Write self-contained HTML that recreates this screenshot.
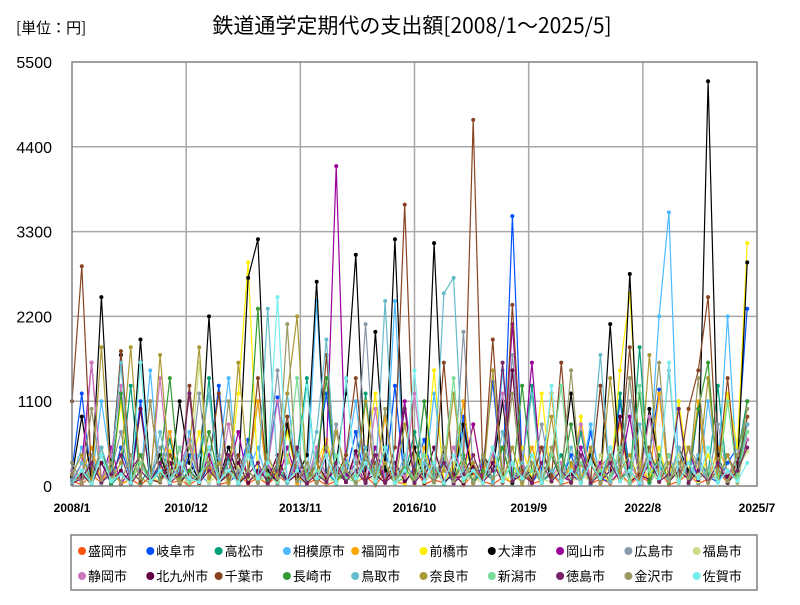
<!DOCTYPE html>
<html><head><meta charset="utf-8"><style>
body{margin:0;background:#fff;font-family:"Liberation Sans","Noto Sans CJK JP",sans-serif}
</style></head><body>
<svg id="chart" width="800" height="600" xmlns="http://www.w3.org/2000/svg">
<text x="16" y="33" font-size="15" font-family="Noto Sans CJK JP, sans-serif">[単位：円]</text>
<text x="412" y="33" font-size="21" text-anchor="middle" font-family="Noto Sans CJK JP, sans-serif">鉄道通学定期代の支出額[2008/1～2025/5]</text>
<g id="grid"></g><g id="series"></g><g id="axes"></g><g id="legend"></g>
</svg>
<script>
const names=["盛岡市","岐阜市","高松市","相模原市","福岡市","前橋市","大津市","岡山市","広島市","福島市","静岡市","北九州市","千葉市","長崎市","鳥取市","奈良市","新潟市","徳島市","金沢市","佐賀市"];
const colors=["#ff5511","#0050ff","#00a078","#4cbaff","#ffa500","#ffee00","#000000","#990099","#8899aa","#ccdd88","#cc77bb","#660044","#884422","#339933","#66bbcc","#aa9933","#77dd99","#772266","#999966","#77eeee"];
const yTicks=[0,1100,2200,3300,4400,5500];
const xTickLabels=["2008/1","2010/12","2013/11","2016/10","2019/9","2022/8","2025/7"];
const s0=[60,20,150,40,220,30,90,10,120,180,40,70,15,100,260,20,50,160,30,110,20,140,40,300,30,90,15,60,200,40,130,10,170,50,30,240,20,80,40,190,10,150,60,20,110,40,220,30,70,160,20,60,280,30,90,40,180,20,130,50,210,15,60,160,30,90,200,40,300,800];
const s1=[200,1200,60,300,30,500,90,1100,40,250,700,60,400,30,280,1300,50,150,600,40,300,1150,70,250,50,400,1200,60,150,700,40,300,80,1300,30,250,600,50,350,120,900,40,280,1350,60,3500,300,40,220,1200,60,400,40,700,100,50,1100,200,30,400,1250,60,500,40,1000,120,50,300,500,2300];
const s2=[30,200,60,400,20,150,1300,40,250,80,600,30,200,60,1400,40,350,20,150,1100,30,250,70,400,1400,40,200,20,350,90,1200,40,250,30,120,700,50,300,20,200,1100,40,180,80,500,30,250,1300,60,150,400,40,700,20,200,80,1200,50,1800,40,250,100,1100,30,350,150,1300,60,400,1100];
const s3=[100,500,40,1100,250,50,400,90,1500,60,300,20,700,150,40,350,1400,50,200,500,30,300,1200,80,40,2400,200,50,350,1100,40,300,120,2400,60,500,50,1200,200,40,700,80,350,50,1500,200,40,500,120,1200,50,300,90,800,40,350,200,1400,50,300,2200,3550,100,500,40,1100,200,2200,80,800];
const s4=[30,150,500,60,300,20,90,400,40,200,700,50,150,30,500,80,300,40,200,1100,50,150,400,30,300,80,600,40,200,30,400,120,900,50,250,20,500,90,300,40,1100,30,200,400,60,300,20,500,120,1200,40,250,80,450,30,300,800,40,200,90,1200,60,400,120,1100,40,500,200,60,900];
const s5=[50,200,30,500,80,1100,40,300,120,50,450,20,200,700,60,300,90,1200,2900,60,400,50,700,120,30,300,600,40,200,80,400,1200,50,300,30,500,120,1500,40,250,80,800,60,400,150,40,500,90,1200,50,300,80,900,60,200,30,1500,2500,300,80,500,40,1100,200,60,400,120,1200,500,3150];
const s6=[120,900,60,2450,200,1700,60,1900,150,400,50,1100,300,80,2200,60,500,120,2700,3200,200,50,800,120,400,2650,80,300,1200,3000,60,2000,200,3200,80,500,40,3150,300,100,800,60,400,200,1100,40,300,90,500,60,200,1200,80,400,100,2100,200,2750,80,1000,300,60,500,200,80,5250,400,40,200,2900];
const s7=[50,300,1600,80,500,30,200,400,60,300,20,500,120,60,400,30,200,700,60,150,300,30,500,80,200,50,400,4150,120,300,40,500,80,200,1100,50,300,120,400,30,200,800,60,300,90,2100,200,1600,50,400,120,60,500,80,300,40,200,900,60,300,100,400,50,500,90,200,60,400,120,600];
const s8=[150,40,400,30,200,700,60,300,40,500,80,200,50,1200,120,400,60,200,500,40,300,1500,80,200,50,400,120,800,60,300,2100,80,500,40,200,120,1100,60,400,40,2000,200,80,500,120,1700,300,60,800,80,200,40,400,120,1300,80,300,1100,60,400,200,1500,80,500,300,40,800,120,400,700];
const s9=[40,120,20,300,60,150,30,400,80,40,300,20,100,1600,50,150,30,250,70,120,40,400,60,150,30,300,90,60,400,40,150,60,300,30,100,400,50,200,40,300,60,120,30,350,50,150,40,400,90,50,300,40,150,60,400,50,120,30,350,80,200,50,400,40,150,90,350,60,200,450];
const s10=[200,50,1600,80,400,1300,60,300,120,1400,50,250,600,80,300,50,800,120,400,60,250,1100,80,300,50,500,120,250,50,400,90,1000,60,300,120,1200,80,250,50,500,120,300,60,400,1200,80,250,50,500,120,300,80,800,60,250,400,80,300,50,900,120,400,80,500,200,60,300,120,400,600];
const s11=[50,150,30,300,60,200,40,1000,80,50,300,30,200,60,500,40,150,300,40,200,80,400,50,150,30,300,90,200,50,450,80,150,40,300,60,200,80,500,50,150,30,250,80,300,50,1500,90,200,50,400,80,150,50,300,60,200,900,50,150,80,300,50,200,90,400,60,200,120,300,800];
const s12=[1100,2850,100,500,40,1750,200,60,1100,50,400,120,1300,60,300,1200,40,400,120,1400,50,300,900,80,200,40,1700,120,400,1400,60,300,50,500,3650,100,400,50,1600,60,300,4750,100,1900,40,2350,200,60,500,120,1600,40,300,80,1300,100,400,1800,60,500,50,300,120,1000,1500,2450,200,1400,100,900];
const s13=[30,200,80,500,40,1200,100,400,40,300,1400,60,200,40,700,100,300,50,400,2300,60,200,40,500,100,300,1400,60,200,40,400,100,500,60,250,40,1100,100,300,60,400,40,200,100,500,60,1300,200,40,400,100,800,60,300,40,500,100,200,1200,60,400,40,300,100,1000,1600,60,400,100,1100];
const s14=[80,300,40,500,120,1600,60,300,40,700,100,200,60,400,1200,40,300,100,500,60,2300,200,40,400,100,700,1900,60,300,40,500,100,2400,60,400,40,300,100,2500,2700,200,60,400,40,700,100,300,1200,60,200,40,500,100,300,1700,60,400,40,800,200,300,60,500,100,400,60,300,200,100,800];
const s15=[150,400,50,1800,80,300,1800,100,40,1700,200,60,500,1800,100,300,40,1600,200,60,400,100,1200,2200,60,300,40,700,200,60,1100,100,300,40,800,100,400,60,200,1200,100,300,40,1500,60,500,40,200,100,900,60,300,40,500,100,1400,200,400,40,1700,100,300,60,500,200,1400,100,400,40,700];
const s16=[40,200,30,400,80,150,40,300,30,200,60,500,40,150,300,50,200,30,400,60,150,40,300,1400,60,200,40,400,100,50,300,60,500,40,200,100,400,40,300,1400,60,200,40,500,100,300,60,200,40,400,1300,60,300,40,200,100,500,60,1300,200,60,400,40,300,100,200,60,1100,100,700];
const s17=[30,100,300,50,150,400,30,200,60,300,40,150,1200,40,200,60,400,40,150,300,30,200,60,500,40,150,50,300,60,200,40,400,50,150,1000,40,200,60,300,40,150,400,50,200,1600,60,150,40,300,60,200,50,400,40,150,300,60,200,40,400,60,150,1000,40,200,60,300,50,200,500];
const s18=[300,40,1000,80,300,40,400,100,1100,60,200,40,500,100,300,50,1100,60,200,40,400,100,2100,60,300,40,500,100,200,50,400,60,1000,40,300,100,200,50,500,60,300,40,400,100,200,1200,60,300,50,500,100,1500,60,300,40,400,100,1400,200,400,1600,60,300,100,1400,40,200,60,400,1000];
const s19=[40,200,30,400,60,150,40,1600,60,200,40,300,100,50,500,60,200,40,400,100,300,2450,60,200,1300,100,400,40,1400,100,300,60,500,40,200,1500,60,300,40,400,100,200,40,500,60,300,100,400,50,1300,60,200,40,300,100,500,60,200,40,400,100,1600,60,300,100,500,40,200,60,300];
const seriesData=[s0,s1,s2,s3,s4,s5,s6,s7,s8,s9,s10,s11,s12,s13,s14,s15,s16,s17,s18,s19];
const monthStep=3, totalMonths=210;
const NS="http://www.w3.org/2000/svg";
const L=72,R=757,T=62,B=486,yMax=5500;
const xs=m=>L+(R-L)*m/totalMonths;
const ys=v=>B-(B-T)*v/yMax;
function mk(tag,attrs,parent){const e=document.createElementNS(NS,tag);for(const k in attrs)e.setAttribute(k,attrs[k]);parent.appendChild(e);return e;}
const grid=document.getElementById('grid'),axes=document.getElementById('axes'),ser=document.getElementById('series'),leg=document.getElementById('legend');
yTicks.forEach((t,i)=>{
  if(i>0&&i<yTicks.length-1){const g=mk('line',{x1:L,x2:R,y1:ys(t),y2:ys(t),stroke:'#a8a8a8','stroke-width':1.5},grid);
  
  }
  const tx=mk('text',{x:52,y:ys(t)+6,'font-size':16,'text-anchor':'end'},axes);tx.textContent=t;
  
  
});
xTickLabels.forEach((lab,i)=>{
  const m=i*totalMonths/(xTickLabels.length-1);
  if(i>0&&i<xTickLabels.length-1){const g=mk('line',{x1:xs(m),x2:xs(m),y1:T,y2:B,stroke:'#a8a8a8','stroke-width':1.5},grid);
  
  }
  const tx=mk('text',{x:xs(m),y:512,'font-size':12,'font-weight':'bold','text-anchor':'middle'},axes);tx.textContent=lab;
  
  
});
const fr=mk('rect',{x:L,y:T,width:R-L,height:B-T,fill:'none',stroke:'#808080','stroke-width':1.5},axes);


seriesData.forEach((d,si)=>{
  const g=mk('g',{},ser);
  
  
  const pts=d.map((v,i)=>xs(i*monthStep).toFixed(1)+','+ys(v).toFixed(1)).join(' ');
  const pl=mk('polyline',{points:pts,fill:'none',stroke:colors[si],'stroke-width':1.2},g);
  
  
  d.forEach((v,i)=>{const c=mk('circle',{cx:xs(i*monthStep),cy:ys(v),r:2,fill:colors[si]},g);
    
    });
});
const lb=mk('rect',{x:71,y:535,width:686,height:55,fill:'#fff',stroke:'#808080','stroke-width':1.5},leg);


names.forEach((n,i)=>{
  const row=Math.floor(i/10),col=i%10;
  const x=78+col*68.3,y=551+row*25;
  const g=mk('g',{},leg);
  
  
  mk('circle',{cx:x+4,cy:y,r:4,fill:colors[i]},g);
  const t=mk('text',{x:x+10,y:y+5,'font-size':13,'font-family':'Noto Sans CJK JP, sans-serif'},g);t.textContent=n;
});
</script>
</body></html>
